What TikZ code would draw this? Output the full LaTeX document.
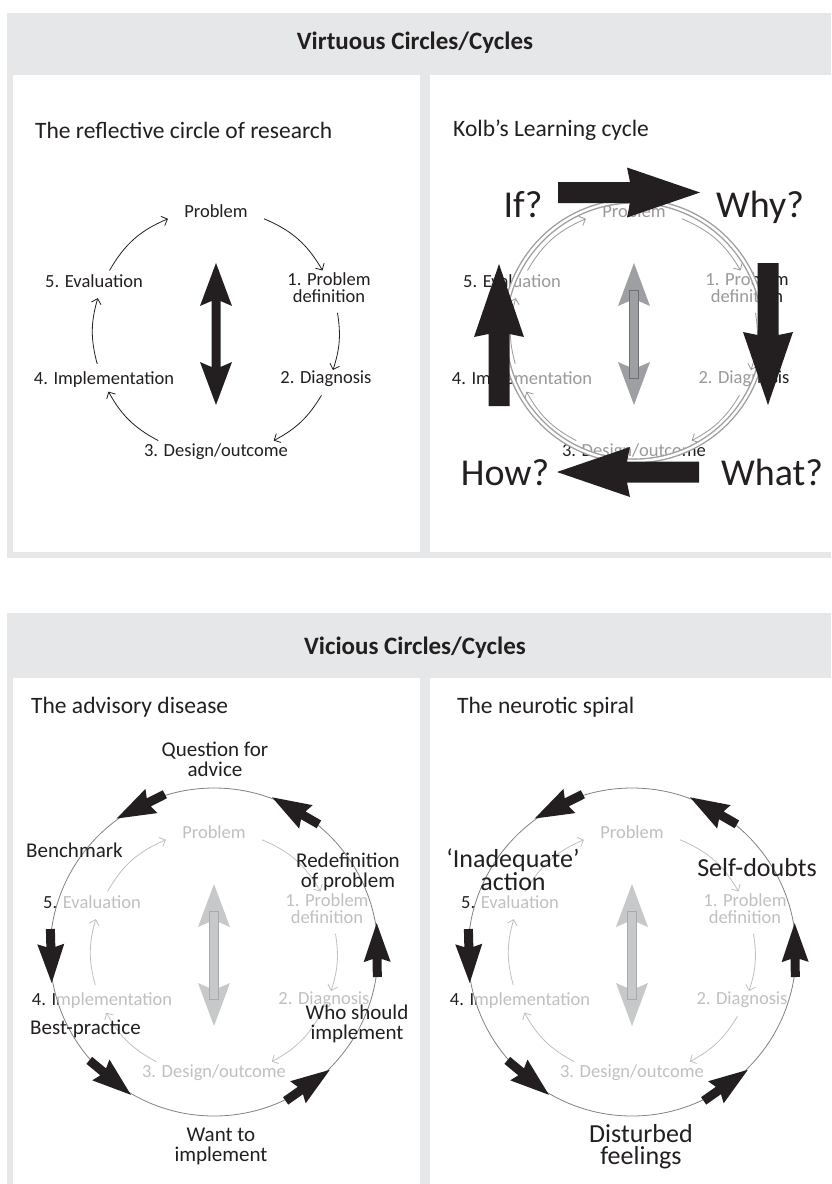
\documentclass[tikz,border=0pt]{standalone}
\usepackage{fontspec}
\setmainfont{Carlito}
\usetikzlibrary{arrows.meta,calc}
\definecolor{ink}{HTML}{231F20}
\definecolor{framegray}{HTML}{E6E7E8}
\definecolor{ringgray}{HTML}{9D9FA2}
\definecolor{rimgray}{HTML}{808285}
\definecolor{kgray}{HTML}{9D9FA2}
\definecolor{kedge}{HTML}{6D6E71}
\definecolor{lgray}{HTML}{C7C8CA}
\definecolor{ledge}{HTML}{A7A9AC}
\tikzset{
  cyclbl/.style={inner sep=0pt, text=ink, align=center, font=\fontsize{18.5}{17}\selectfont},
  conn/.style={draw=ink, line width=0.8pt, -{Straight Barb[length=5pt,width=10pt]}},
  paneltitle/.style={anchor=west, inner sep=0pt, text=ink, font=\fontsize{23.5}{26}\selectfont},
  hdrtext/.style={inner sep=0pt, text=ink, font=\bfseries\fontsize{25}{28}\selectfont},
  bigq/.style={anchor=base, inner sep=0pt, text=ink, font=\fontsize{38}{40}\selectfont},
  notelbl/.style={inner sep=0pt, text=ink, align=center, font=\fontsize{21}{20}\selectfont},
  bignotelbl/.style={inner sep=0pt, text=ink, align=center, font=\fontsize{26}{22}\selectfont},
  % the five-step research cycle, centred on its own origin
  cyclediag/.pic={
    \node[cyclbl] (-p)  at (0,121)    {Problem};
    \node[cyclbl] (-d1) at (113,44)   {1. Problem\\definition};
    \node[cyclbl] (-d2) at (110,-47)  {2. Diagnosis};
    \node[cyclbl] (-d3) at (0,-120)   {3. Design/outcome};
    \node[cyclbl] (-d4) at (-112,-48) {4. Implementation};
    \node[cyclbl] (-d5) at (-122,51)  {5. Evaluation};
    \foreach \n/\a/\b/\h in {a/67/30/18.5, b/9/-18/13.5, c/-31/-62/15.5,
                            d/-118/-151/16.5, e/-165/-196/15.5, f/150/113/18.5} {
      \coordinate (-\n s) at (\a:123);
      \coordinate (-\n e) at (\b:123);
      \draw[conn] (-\n s) to[bend left=\h] (-\n e);
    }
  },
  % vertical double-headed arrow
  dblshape/.pic={
    \path[pic actions] (0,69) -- (16,26) -- (4.5,31) -- (4.5,-35) -- (16,-30)
      -- (0,-73) -- (-16,-30) -- (-4.5,-35) -- (-4.5,31) -- (-16,26) -- cycle;
  },
  shaftbox/.pic={
    \path[pic actions] (-4.5,42) rectangle (4.5,-46);
  },
  % heavy block arrow, tail at origin, pointing along +x
  blockarrow/.pic={
    \fill[ink] (0,10.5) -- (72,10.5) -- (69,25) -- (142,0) -- (69,-25)
      -- (72,-10.5) -- (0,-10.5) -- cycle;
  },
  % short stubby arrow, centred at origin, pointing along +x
  tangarrow/.pic={
    \fill[ink] (-27,4.5) -- (-9,4.5) -- (-12,13.5) -- (27,0) -- (-12,-13.5)
      -- (-9,-4.5) -- (-27,-4.5) -- cycle;
  }
}
\begin{document}
\begin{tikzpicture}[x=1pt,y=1pt]
\useasboundingbox (0,0) rectangle (831,-1184);
\fill[white] (0,0) rectangle (831,-1184);

% frames
\fill[framegray] (7,-13) rectangle (831,-558);
\fill[white] (13,-75) rectangle (420,-552);
\fill[white] (430,-75) rectangle (831,-552);
\fill[framegray] (7,-613) rectangle (831,-1184);
\fill[white] (13,-678) rectangle (420,-1184);
\fill[white] (430,-678) rectangle (831,-1184);

\node[hdrtext] (hv) at (415,-43) {Virtuous Circles/Cycles};
\node[hdrtext] (hc) at (415,-648) {Vicious Circles/Cycles};
\node[paneltitle] (t1) at (35,-130) {The reflective circle of research};
\node[paneltitle] (t2) at (453,-130) {Kolb's Learning cycle};
\node[paneltitle] (t3) at (31,-707) {The advisory disease};
\node[paneltitle] (t4) at (457,-707) {The neurotic spiral};

% reflective circle
\pic (a) at (216,-332) {cyclediag};
\pic[fill=ink] at (216,-332) {dblshape};

% Kolb
\pic (b) at (634,-332) {cyclediag};
\fill[white, fill opacity=0.55] (634,-331) circle (128);
\pic[fill=kgray] at (634,-332) {dblshape};
\pic[fill=kgray, draw=kedge, line width=0.5pt] at (634,-332) {shaftbox};
\draw[ringgray, line width=1.4pt, double=white, double distance=2.4pt] (634,-331) circle (130);
\pic at (558,-192.5) {blockarrow};
\pic[rotate=-90] at (768,-263) {blockarrow};
\pic[rotate=180] at (699,-472) {blockarrow};
\pic[rotate=90] at (499,-406) {blockarrow};
\node[bigq] (qif)   at (523,-217) {If?};
\node[bigq] (qwhy)  at (760,-217) {Why?};
\node[bigq] (qhow)  at (505,-485) {How?};
\node[bigq] (qwhat) at (772,-485) {What?};

% advisory disease
\pic (c) at (214,-953) {cyclediag};
\fill[white, fill opacity=0.72] (214,-952) circle (164);
\pic[fill=lgray] at (214,-953) {dblshape};
\pic[fill=lgray, draw=ledge, line width=0.5pt] at (214,-953) {shaftbox};
\draw[rimgray, line width=0.8pt] (214,-952) circle (164);
\foreach \t in {116.7, 60, 0.7, 181.4, 230.4, -54.9}
  \pic[rotate=\t+90] at ($(214,-952)+(\t:163)$) {tangarrow};
\node[notelbl] (n1) at (215,-759) {Question for\\advice};
\node[notelbl, anchor=west] (n2) at (26,-850) {Benchmark};
\node[notelbl] (n3) at (348,-872) {Redefinition\\of problem};
\node[notelbl, anchor=west] (n4) at (30,-1029) {Best-practice};
\node[notelbl] (n5) at (357,-1024) {Who should\\implement};
\node[notelbl] (n6) at (221,-1146) {Want to\\implement};

% neurotic spiral
\pic (d) at (632,-953) {cyclediag};
\fill[white, fill opacity=0.72] (632,-952) circle (164);
\pic[fill=lgray] at (632,-953) {dblshape};
\pic[fill=lgray, draw=ledge, line width=0.5pt] at (632,-953) {shaftbox};
\draw[rimgray, line width=0.8pt] (632,-952) circle (164);
\foreach \t in {116.7, 60, 0.7, 181.4, 230.4, -54.9}
  \pic[rotate=\t+90] at ($(632,-952)+(\t:163)$) {tangarrow};
\node[bignotelbl] (m1) at (513,-870) {`Inadequate'\\action};
\node[bignotelbl] (m2) at (757,-868) {Self-doubts};
\node[bignotelbl] (m3) at (641,-1147) {Disturbed\\feelings};
\end{tikzpicture}
\end{document}
